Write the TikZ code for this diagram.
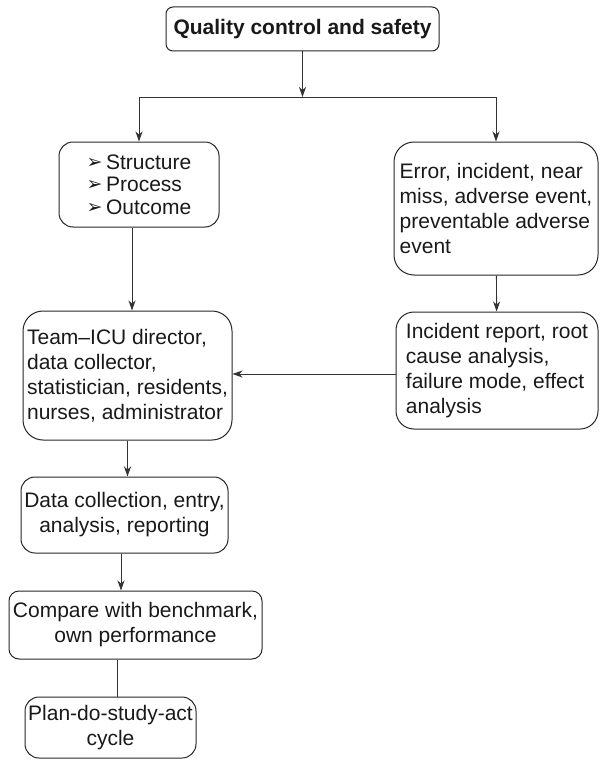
\documentclass[tikz,border=0pt]{standalone}
\usepackage{fontspec}
\setmainfont{Liberation Sans}
\newfontfamily\dingfont{DejaVu Sans}
\usepackage{tikz}
\usetikzlibrary{arrows.meta,positioning}

\begin{document}
\begin{tikzpicture}[
x=1pt, y=-1pt,
block/.style={
		draw=black!85,
		line width=1pt,
		rounded corners=14pt,
		inner xsep=2pt,
		inner ysep=2pt,
		text=black!90,
		font=\fontsize{21}{25}\selectfont,
		},
link/.style={draw=black!80, line width=0.9pt},
>={Stealth[length=10pt,width=7pt,inset=3pt]}
]

\def \bul {\raisebox{1pt}{\dingfont\fontsize{19}{19}\selectfont ➢}\,}

\useasboundingbox (0,0) rectangle (600,760);

% top of the tree
\node[block, rounded corners=7pt, font=\fontsize{21}{25}\selectfont\bfseries,
  minimum width=273pt, minimum height=44pt] (qc) at (302.5,29) {Quality control and safety};
\coordinate (split) at (302.5,97);

% two branches
\node[block, align=left, font=\fontsize{21}{22.5}\selectfont,
  minimum width=160pt, minimum height=85pt] (struct) at (139,184.5)
  {\bul Structure\\ \bul Process\\ \bul Outcome};
\node[block, align=left, rounded corners=20pt,
  minimum width=204pt, minimum height=133pt] (err) at (496,208.5)
  {Error, incident, near\\ miss, adverse event,\\ preventable adverse\\ event};

\node[block, align=left, rounded corners=20pt,
  minimum width=209pt, minimum height=129pt] (team) at (127.5,375.5)
  {Team--ICU director,\\ data collector,\\ statistician, residents,\\ nurses, administrator};
\node[block, align=left, rounded corners=18pt,
  minimum width=202pt, minimum height=117pt] (inc) at (497,370.5)
  {Incident report, root\\ cause analysis,\\ failure mode, effect\\ analysis};

% the cycle
\node[block, align=center, minimum width=207pt, minimum height=76pt] (data) at (124.5,515)
  {Data collection, entry,\\ analysis, reporting};
\node[block, align=center, rounded corners=10pt, minimum width=253pt, minimum height=68pt] (comp) at (135.5,625)
  {Compare with benchmark,\\ own performance};
\node[block, align=center, minimum width=171pt, minimum height=61pt] (plan) at (110.5,727.5)
  {Plan-do-study-act\\ cycle};

\draw[link, ->] (qc) -- (split);
\draw[link, ->] (split) -| (struct);
\draw[link, ->] (split) -| (err);
\draw[link, ->] ([xshift=-7pt]struct.south) -- ([xshift=-7pt]struct.south |- team.north);
\draw[link, ->] (err) -- (inc);
\draw[link, ->] ([yshift=-3.5pt]inc.west) -- ([yshift=-3.5pt]inc.west -| team.east);
\draw[link, ->] (team) -- (team.south |- data.north);
\draw[link, ->] ([xshift=-3.5pt]data.south) -- ([xshift=-3.5pt]data.south |- comp.north);
\draw[link] ([xshift=6.5pt]plan.north |- comp.south) -- ([xshift=6.5pt]plan.north);

\end{tikzpicture}
\end{document}
